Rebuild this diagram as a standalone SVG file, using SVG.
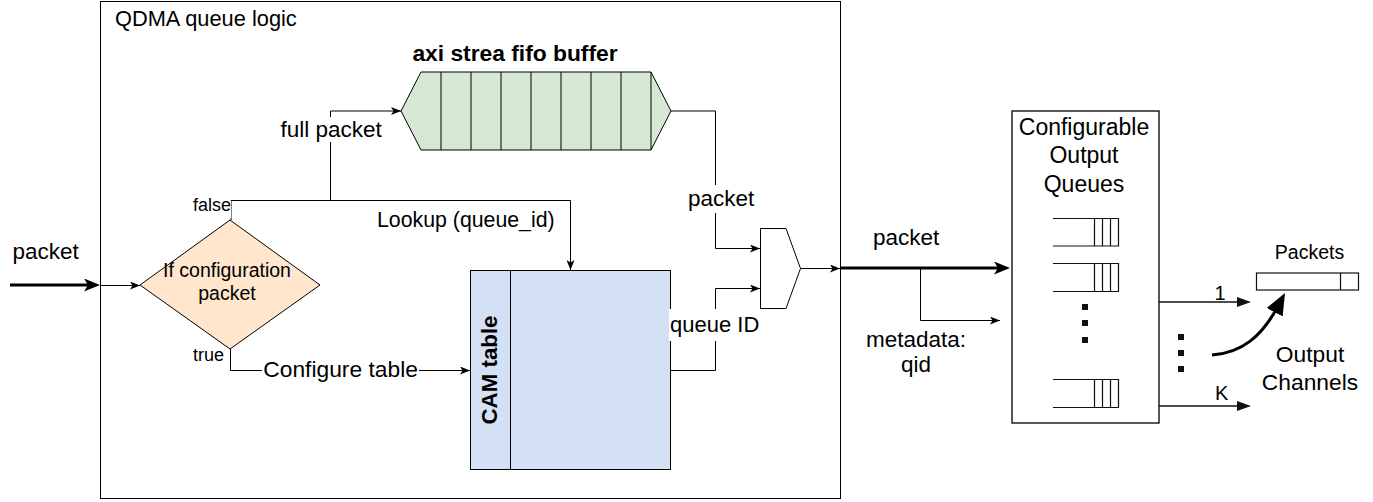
<svg xmlns="http://www.w3.org/2000/svg" width="1373" height="502" viewBox="0 0 1373 502">
<style>
text{font-family:"Liberation Sans",Arial,sans-serif;fill:#000}
.ln{fill:none;stroke:#000;stroke-width:1}
.thick{fill:none;stroke:#000;stroke-width:3}
.lbl{font-size:22.5px}
.sm{font-size:18px}
.bg{fill:#fff;stroke:none}
.q{fill:none;stroke:#111;stroke-width:1.2}
.dot{fill:#111}
</style>
<defs>
<marker id="a" markerUnits="userSpaceOnUse" viewBox="0 0 10 8" markerWidth="10" markerHeight="8" refX="10" refY="4" orient="auto"><path d="M0,0 L10,4 L0,8 L2.5,4 Z" fill="#000"/></marker>
<marker id="at" markerUnits="userSpaceOnUse" viewBox="0 0 16 13" markerWidth="16" markerHeight="13" refX="6" refY="6.5" orient="auto"><path d="M0,0 L16,6.5 L0,13 L4,6.5 Z" fill="#000"/></marker>
<marker id="tri" markerUnits="userSpaceOnUse" viewBox="0 0 14 10" markerWidth="14" markerHeight="10" refX="3" refY="5" orient="auto"><path d="M0,0 L14,5 L0,10 Z" fill="#111"/></marker>
<marker id="big" markerUnits="userSpaceOnUse" viewBox="0 0 22 18" markerWidth="22" markerHeight="18" refX="6" refY="9" orient="auto"><path d="M0,0 L22,9 L0,18 Z" fill="#000"/></marker>
</defs>

<g id="qdma">
<rect x="100.5" y="1.5" width="740" height="497" fill="#fff" stroke="#000" stroke-width="1"/>
<text x="115" y="26" style="font-size:21.8px">QDMA queue logic</text>
</g>

<g id="fifo">
<polygon points="401,111 421,72 651,72 671,111 651,150 421,150" fill="#d5e8d4" stroke="#000" stroke-width="1"/>
<path class="ln" d="M441,72V150M471,72V150M501,72V150M531,72V150M561,72V150M591,72V150M621,72V150M651,72V150"/>
<text x="515" y="61" text-anchor="middle" style="font-size:22.8px;font-weight:bold">axi strea fifo buffer</text>
</g>

<g id="decision">
<polygon points="230,220 320,285 230,349 140,285" fill="#ffe6cc" stroke="#000" stroke-width="1"/>
<text x="227" y="277" text-anchor="middle" style="font-size:19.5px">If configuration</text>
<text x="227" y="300" text-anchor="middle" style="font-size:19.5px">packet</text>
</g>

<g id="cam">
<rect x="470.5" y="270.5" width="200" height="199" fill="#d4e1f5" stroke="#000" stroke-width="1"/>
<line class="ln" x1="510.5" y1="270.5" x2="510.5" y2="469.5"/>
<text transform="translate(497,370) rotate(-90)" x="0" y="0" text-anchor="middle" style="font-size:22.3px;font-weight:bold">CAM table</text>
</g>

<g id="mux">
<polygon points="760.5,228.5 786,228.5 800.5,268.5 786,308.5 760.5,308.5" fill="#fff" stroke="#000" stroke-width="1"/>
</g>

<g id="output-queues">
<rect x="1012" y="111" width="147" height="312" fill="#fff" stroke="#111" stroke-width="1.4"/>
<text x="1084" y="135" text-anchor="middle" style="font-size:23px">Configurable</text>
<text x="1084" y="163" text-anchor="middle" style="font-size:23px">Output</text>
<text x="1084" y="191.5" text-anchor="middle" style="font-size:23px">Queues</text>
<path class="q" d="M1053,218.5H1118.5V246H1053M1094.5,218.5V246M1102.5,218.5V246M1110.5,218.5V246"/>
<path class="q" d="M1053,263.5H1118.5V291.5H1053M1094.5,263.5V291.5M1102.5,263.5V291.5M1110.5,263.5V291.5"/>
<path class="q" d="M1053,379.5H1118.5V407.5H1053M1094.5,379.5V407.5M1102.5,379.5V407.5M1110.5,379.5V407.5"/>
<rect class="dot" x="1082" y="304" width="6" height="6"/>
<rect class="dot" x="1082" y="320" width="6" height="6"/>
<rect class="dot" x="1082" y="337" width="6" height="6"/>
</g>

<g id="output-channels">
<rect class="dot" x="1178" y="334" width="6" height="6"/>
<rect class="dot" x="1178" y="350" width="6" height="6"/>
<rect class="dot" x="1178" y="366" width="6" height="6"/>
<rect x="1256.5" y="273" width="102" height="17" fill="#fff" stroke="#111" stroke-width="1.2"/>
<line class="q" x1="1340.5" y1="273" x2="1340.5" y2="290"/>
<text x="1309.5" y="259" text-anchor="middle" style="font-size:19.5px">Packets</text>
<text x="1310" y="361.5" text-anchor="middle" style="font-size:22.8px">Output</text>
<text x="1310" y="390" text-anchor="middle" style="font-size:22.8px">Channels</text>
</g>

<g id="connectors">
<line class="thick" x1="10" y1="285" x2="90" y2="285" marker-end="url(#at)"/>
<text x="12.5" y="259" class="lbl">packet</text>
<line class="ln" x1="100" y1="285.5" x2="140" y2="285.5" marker-end="url(#a)"/>

<path class="ln" d="M231,220V200.5H570.5V270" marker-end="url(#a)"/>
<path class="ln" d="M330.5,200.5V111H401" marker-end="url(#a)"/>
<rect class="bg" x="188" y="201" width="43" height="17"/>
<text x="231" y="211" text-anchor="end" class="sm">false</text>
<rect class="bg" x="279" y="117" width="105" height="25"/>
<text x="280.5" y="137" class="lbl">full packet</text>
<text x="377" y="227" style="font-size:21.3px">Lookup (queue_id)</text>

<path class="ln" d="M230.5,349V370.5H470" marker-end="url(#a)"/>
<text x="224" y="361" text-anchor="end" class="sm">true</text>
<rect class="bg" x="262" y="358" width="157" height="25"/>
<text x="263.3" y="377" style="font-size:22.8px">Configure table</text>

<path class="ln" d="M671,111H715.5V248.5H760" marker-end="url(#a)"/>
<rect class="bg" x="686" y="185" width="70" height="28"/>
<text x="688" y="206" class="lbl">packet</text>

<path class="ln" d="M671,370.5H715.5V288.5H760" marker-end="url(#a)"/>
<rect class="bg" x="669" y="309" width="92" height="32"/>
<text x="670" y="332" style="font-size:22px">queue ID</text>

<line class="ln" x1="800.5" y1="268.5" x2="840" y2="268.5" marker-end="url(#a)"/>
<line class="thick" x1="840" y1="268" x2="1000" y2="268" marker-end="url(#at)"/>
<text x="873" y="245" class="lbl">packet</text>
<path class="ln" d="M920.5,268V320.5H1000" marker-end="url(#a)"/>
<text x="916" y="347" text-anchor="middle" class="lbl">metadata:</text>
<text x="916" y="372" text-anchor="middle" class="lbl">qid</text>

<line x1="1159" y1="302" x2="1240" y2="302" stroke="#111" stroke-width="1.3" marker-end="url(#tri)"/>
<text x="1220" y="300" text-anchor="middle" style="font-size:20px">1</text>
<line x1="1159" y1="406" x2="1240" y2="406" stroke="#111" stroke-width="1.3" marker-end="url(#tri)"/>
<text x="1215" y="400" style="font-size:20px">K</text>
<path d="M1212,355 C1242,353 1262,336 1277.5,307" fill="none" stroke="#000" stroke-width="3" marker-end="url(#big)"/>
</g>
</svg>
